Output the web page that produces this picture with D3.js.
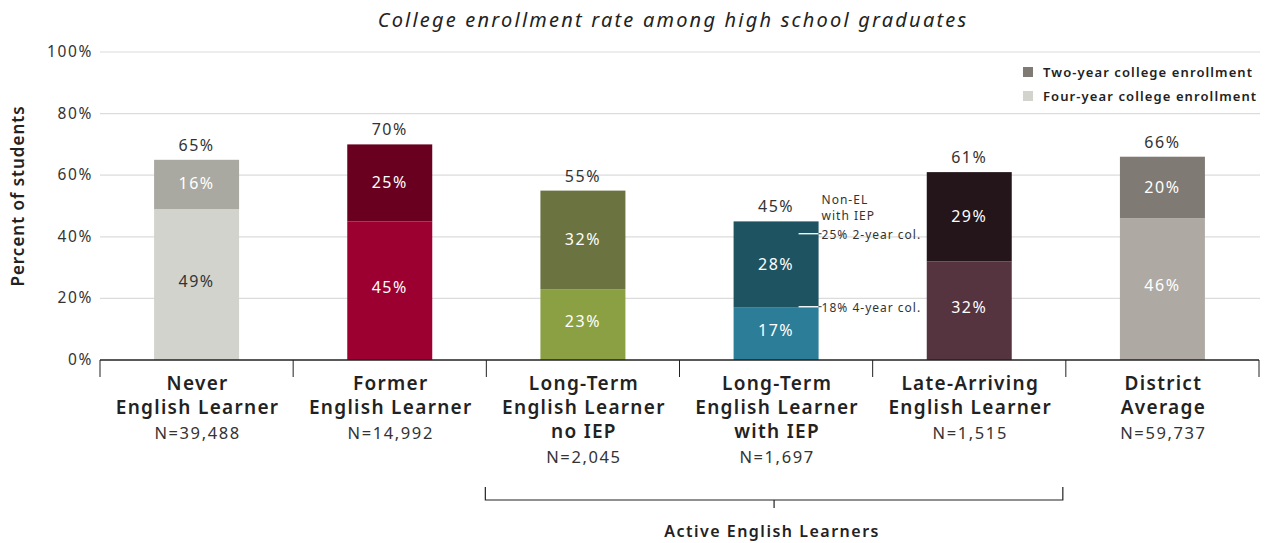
<!DOCTYPE html>
<html>
<head>
<meta charset="utf-8">
<script src="https://cdn.jsdelivr.net/npm/d3@7"></script>
<style>
  body { margin: 0; background: #fff; }
  svg { font-family: "Noto Sans", "Open Sans", sans-serif; }
</style>
</head>
<body>
<div id="chart"></div>
<script>
// chart data
const categories = [
  ["Never", "English Learner"],
  ["Former", "English Learner"],
  ["Long-Term", "English Learner", "no IEP"],
  ["Long-Term", "English Learner", "with IEP"],
  ["Late-Arriving", "English Learner"],
  ["District", "Average"]
];
const counts = ["N=39,488", "N=14,992", "N=2,045", "N=1,697", "N=1,515", "N=59,737"];
const fourYear = [49, 45, 23, 17, 32, 46];
const twoYear = [16, 25, 32, 28, 29, 20];
const totals = [65, 70, 55, 45, 61, 66];
const fourColors = ["#d3d3cd", "#9b0030", "#8ba043", "#2b7d98", "#55333f", "#aeaaa3"];
const twoColors = ["#a9a9a1", "#6a0020", "#6b7440", "#1e5462", "#231519", "#7f7a73"];
const fourText = ["#333", "#fff", "#fff", "#fff", "#fff", "#fff"];
const yTicks = [0, 20, 40, 60, 80, 100];
const legendItems = [
  {label: "Two-year college enrollment", color: "#7f7a73"},
  {label: "Four-year college enrollment", color: "#d3d3cd"}
];
// Non-EL with IEP reference marks, on the with-IEP bar
const refMarks = [
  {value: 41, label: "25% 2-year col."},
  {value: 17.3, label: "18% 4-year col."}
];

const width = 1267, height = 543;
const margin = {top: 52, right: 8, bottom: 183, left: 100};

const svg = d3.select("#chart").append("svg")
  .attr("width", width).attr("height", height);

const x = d3.scaleBand()
  .domain(d3.range(categories.length))
  .range([margin.left, width - margin.right])
  .paddingInner(0).paddingOuter(0);
const bw = x.bandwidth() * 0.44;

const y = d3.scaleLinear().domain([0, 100]).range([height - margin.bottom, margin.top]);

// title
svg.append("text")
  .attr("x", 673).attr("y", 27)
  .attr("text-anchor", "middle")
  .attr("font-size", 20).attr("font-style", "italic").attr("fill", "#222")
  .attr("letter-spacing", 2.2)
  .text("College enrollment rate among high school graduates");

// grid + y labels
svg.append("g").selectAll("line").data(yTicks.filter(d => d > 0)).join("line")
  .attr("x1", margin.left).attr("x2", width - 7)
  .attr("y1", d => y(d)).attr("y2", d => y(d))
  .attr("stroke", "#dcdcdc").attr("stroke-width", 1.2);

svg.append("g").selectAll("text").data(yTicks).join("text")
  .attr("x", 93).attr("y", d => y(d) + 5)
  .attr("text-anchor", "end").attr("font-size", 15.5).attr("fill", "#333")
  .attr("letter-spacing", 1.6)
  .text(d => d + "%");

svg.append("text")
  .attr("transform", `translate(24,${y(50) - 10}) rotate(-90)`)
  .attr("text-anchor", "middle").attr("font-size", 17).attr("font-weight", 600).attr("fill", "#222")
  .attr("letter-spacing", 1)
  .text("Percent of students");

// legend
const lg = svg.append("g");
legendItems.forEach((d, i) => {
  lg.append("rect").attr("x", 1023).attr("y", 67 + i * 24).attr("width", 10).attr("height", 10).attr("fill", d.color);
  lg.append("text").attr("x", 1043).attr("y", 77 + i * 24)
    .attr("font-size", 13).attr("font-weight", 600).attr("fill", "#222")
    .attr("letter-spacing", 1.1).text(d.label);
});

// bars
const bars = svg.append("g").attr("letter-spacing", 1.5);
categories.forEach((c, i) => {
  const cx = x(i) + x.bandwidth() / 2;
  bars.append("rect")
    .attr("x", cx - bw / 2).attr("width", bw)
    .attr("y", y(fourYear[i])).attr("height", y(0) - y(fourYear[i]))
    .attr("fill", fourColors[i]);
  bars.append("rect")
    .attr("x", cx - bw / 2).attr("width", bw)
    .attr("y", y(fourYear[i] + twoYear[i])).attr("height", y(0) - y(twoYear[i]))
    .attr("fill", twoColors[i]);
  bars.append("text")
    .attr("x", cx).attr("y", y(fourYear[i] / 2) + 2)
    .attr("text-anchor", "middle").attr("font-size", 16).attr("fill", fourText[i])
    .text(fourYear[i] + "%");
  bars.append("text")
    .attr("x", cx).attr("y", y(fourYear[i] + twoYear[i] / 2) + 5)
    .attr("text-anchor", "middle").attr("font-size", 16).attr("fill", "#fff")
    .text(twoYear[i] + "%");
  bars.append("text")
    .attr("x", cx).attr("y", y(totals[i]) - 9)
    .attr("text-anchor", "middle").attr("font-size", 16).attr("fill", "#333")
    .text(totals[i] + "%");

  // category labels
  const lines = c;
  lines.forEach((t, j) => {
    svg.append("text").attr("x", cx + 1).attr("y", 390 + j * 24)
      .attr("text-anchor", "middle").attr("font-size", 19).attr("font-weight", 600).attr("fill", "#222")
      .attr("letter-spacing", 1.3)
      .text(t);
  });
  svg.append("text").attr("x", cx + 1).attr("y", 390 + lines.length * 24 + 1)
    .attr("text-anchor", "middle").attr("font-size", 16.5).attr("fill", "#333")
    .attr("letter-spacing", 1.6)
    .text(counts[i]);
});

// x axis line with boundary ticks
const base = y(0);
svg.append("line").attr("x1", margin.left).attr("x2", width - margin.right)
  .attr("y1", base).attr("y2", base).attr("stroke", "#222").attr("stroke-width", 1.3);
svg.append("g").selectAll("line").data(d3.range(categories.length + 1)).join("line")
  .attr("x1", d => margin.left + d * x.bandwidth()).attr("x2", d => margin.left + d * x.bandwidth())
  .attr("y1", base).attr("y2", base + 17)
  .attr("stroke", "#222").attr("stroke-width", 1);

// annotation on with-IEP bar
const ai = 3;
const ax = x(ai) + x.bandwidth() / 2 + bw / 2;
const ann = svg.append("g").attr("font-size", 12).attr("fill", "#333").attr("letter-spacing", 1);
ann.append("text").attr("x", ax + 3).attr("y", 204).text("Non-EL");
ann.append("text").attr("x", ax + 3).attr("y", 220).text("with IEP");
refMarks.forEach(m => {
  ann.append("line").attr("x1", ax - 20).attr("x2", ax)
    .attr("y1", y(m.value)).attr("y2", y(m.value)).attr("stroke", "#fff").attr("stroke-width", 1.3);
  ann.append("line").attr("x1", ax).attr("x2", ax + 3)
    .attr("y1", y(m.value)).attr("y2", y(m.value)).attr("stroke", "#333").attr("stroke-width", 1);
  ann.append("text").attr("x", ax + 3).attr("y", y(m.value) + 5).text(m.label);
});

// bracket for active English learners
const bx1 = x(2) - 1, bx2 = x(5) - 3, by = 500;
svg.append("path")
  .attr("d", `M${bx1},487V${by}H${bx2}V487`)
  .attr("fill", "none").attr("stroke", "#222").attr("stroke-width", 1.2);
svg.append("line").attr("x1", (bx1 + bx2) / 2).attr("x2", (bx1 + bx2) / 2)
  .attr("y1", by).attr("y2", by + 8).attr("stroke", "#222").attr("stroke-width", 1.2);
svg.append("text").attr("x", (bx1 + bx2) / 2 - 2).attr("y", 537)
  .attr("text-anchor", "middle").attr("font-size", 16).attr("font-weight", 600).attr("fill", "#222")
  .attr("letter-spacing", 1.5)
  .text("Active English Learners");
</script>
</body>
</html>
